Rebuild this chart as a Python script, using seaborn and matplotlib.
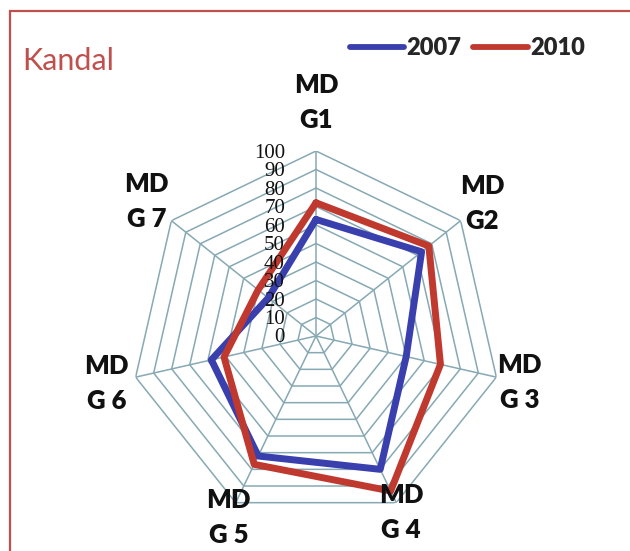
import numpy as np
import pandas as pd
import matplotlib
matplotlib.use("Agg")
import matplotlib.pyplot as plt
import matplotlib.transforms as mtransforms
from matplotlib.lines import Line2D
from matplotlib.patches import Rectangle
import seaborn as sns

# ---- data ----
categories = ["MD\nG1", "MD\nG2", "MD\nG 3", "MD\nG 4", "MD\nG 5", "MD\nG 6", "MD\nG 7"]
values_2007 = [63, 73, 50, 80, 72, 58, 33]
values_2010 = [72, 78, 69, 93, 77, 51, 40]
years = ["2007", "2010"]
r_ticks = list(range(0, 101, 10))
title = "Kandal"

sns.set_theme(style="white")
plt.rcParams['font.family'] = ['Lato', 'DejaVu Sans']

colors = {"2007": "#3a3fae", "2010": "#c0392f"}
grid_color = "#86a9b3"

n = len(categories)
angles = np.linspace(0, 2 * np.pi, n, endpoint=False)
closed = np.append(angles, 2 * np.pi)

rows = []
for year, vals in zip(years, [values_2007, values_2010]):
    for t, v in zip(closed, vals + vals[:1]):
        rows.append({"year": year, "theta": t, "value": v})
df = pd.DataFrame(rows)

fig = plt.figure(figsize=(6.3, 5.51), dpi=100)
fig.patch.set_facecolor("white")
ax = fig.add_axes([131 / 630, 30 / 551, 370 / 630, 370 / 551], projection="polar")
ax.set_theta_zero_location("N")
ax.set_theta_direction(-1)
ax.set_ylim(0, 100)
ax.grid(False)
ax.set_xticks([])
ax.set_yticks([])
ax.spines["polar"].set_visible(False)
ax.patch.set_alpha(0)

# heptagon grid
for level in r_ticks[1:]:
    ax.plot(closed, [level] * (n + 1), color=grid_color, lw=1.1, zorder=1)
for a in angles:
    ax.plot([a, a], [0, 100], color=grid_color, lw=1.1, zorder=1)

sns.lineplot(data=df, x="theta", y="value", hue="year", palette=colors,
             sort=False, estimator=None, lw=5, ax=ax, legend=False, zorder=3)

# radial tick labels, right aligned left of the top spoke
shift = mtransforms.ScaledTranslation(-31 / 100, -2 / 100, fig.dpi_scale_trans)
for level in r_ticks:
    ax.text(0, level, str(level), transform=ax.transData + shift,
            ha="right", va="center", family="Liberation Serif", fontsize=15,
            color="#111111", zorder=4)

# category labels
label_r = [126, 115, 113, 106, 109, 116, 117]
for a, lab, r in zip(angles, categories, label_r):
    ax.text(a, r, lab, ha="center", va="center", fontsize=18.5,
            fontweight="heavy", linespacing=1.55, color="#111111")

fig.text(22 / 630, 1 - 61 / 551, title, color="#c0504d", fontsize=22,
         ha="left", va="center")

handles = [Line2D([0], [0], color=colors[y], lw=4.2) for y in years]
fig.legend(handles, years, loc="center left", bbox_to_anchor=(350 / 630, 1 - 48 / 551),
           ncol=2, frameon=False, borderpad=0, borderaxespad=0,
           handlelength=2.3, handletextpad=0.1, columnspacing=0.5,
           prop={"weight": "heavy", "size": 17})

# outer frame (left and top edges visible)
fig.patches.append(Rectangle((10 / 630, -0.1), 1.2, 1 - 11 / 551 + 0.1,
                             transform=fig.transFigure, fill=False,
                             edgecolor="#c0504d", lw=1.6))

fig.savefig("out.png", dpi=100, facecolor="white")
